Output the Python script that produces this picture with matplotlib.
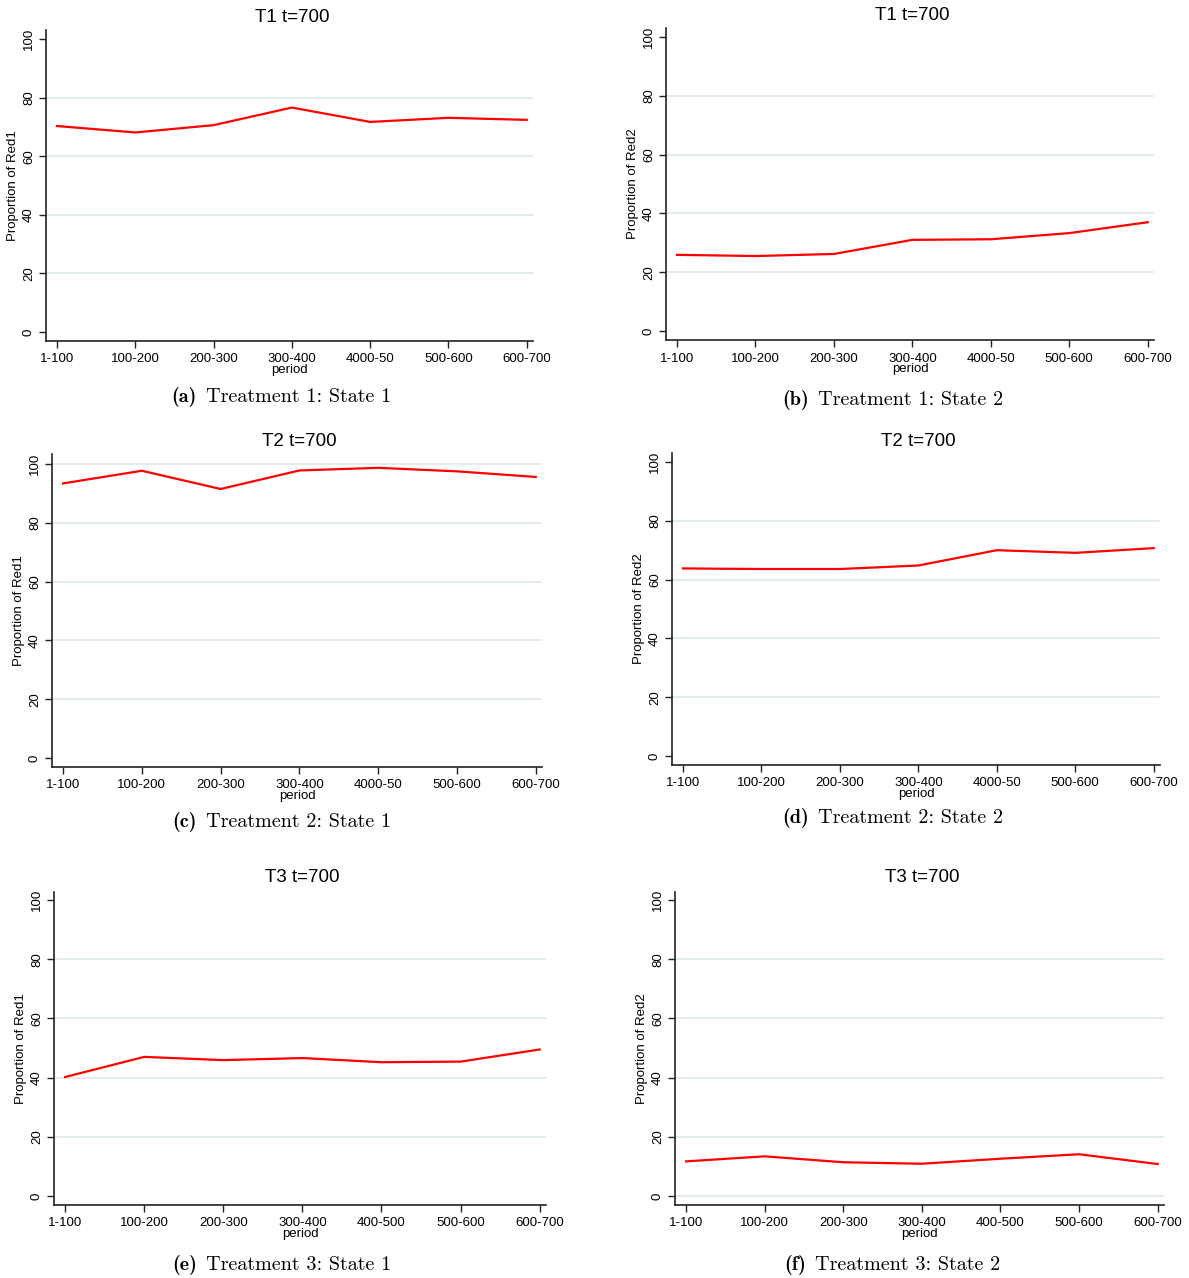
import matplotlib
matplotlib.use("Agg")
import matplotlib.pyplot as plt

# ---- data ----
labels_t12 = ["1-100", "100-200", "200-300", "300-400", "4000-50", "500-600", "600-700"]
labels_t3 = ["1-100", "100-200", "200-300", "300-400", "400-500", "500-600", "600-700"]

t1_state1 = [70.3, 68.1, 70.6, 76.6, 71.7, 73.1, 72.4]
t1_state2 = [25.9, 25.5, 26.2, 31.0, 31.2, 33.3, 37.0]
t2_state1 = [93.4, 97.7, 91.5, 97.8, 98.7, 97.5, 95.6]
t2_state2 = [63.8, 63.6, 63.6, 64.8, 70.0, 69.1, 70.7]
t3_state1 = [40.2, 47.0, 45.9, 46.6, 45.2, 45.4, 49.5]
t3_state2 = [11.7, 13.4, 11.4, 10.9, 12.6, 14.1, 10.8]

titles = ["T1 t=700", "T1 t=700", "T2 t=700", "T2 t=700", "T3 t=700", "T3 t=700"]
ylabels = ["Proportion of Red1", "Proportion of Red2"] * 3
caption_letters = ["(a)", "(b)", "(c)", "(d)", "(e)", "(f)"]
caption_texts = ["Treatment 1: State 1", "Treatment 1: State 2",
                 "Treatment 2: State 1", "Treatment 2: State 2",
                 "Treatment 3: State 1", "Treatment 3: State 2"]
yticks = [0, 20, 40, 60, 80, 100]

series = [t1_state1, t1_state2, t2_state1, t2_state2, t3_state1, t3_state2]
xlabels = [labels_t12, labels_t12, labels_t12, labels_t12, labels_t3, labels_t3]

# ---- layout (pixels: left, right, top, bottom, y0px, y100px, title_y, caption_y, caption_cx) ----
W, H = 1189, 1278
boxes = [
    (46, 533, 30, 341, 332, 39, 16, 397, 281),
    (666, 1154, 28, 340, 331, 37, 15, 400, 893),
    (52, 542, 454, 767, 758, 464, 441, 822, 282),
    (672, 1160, 453, 765, 756, 462, 440, 818, 893),
    (54, 546, 892, 1205, 1196, 900, 877, 1265, 282),
    (675, 1164, 892, 1205, 1196, 900, 877, 1265, 892),
]
extra_grid = [[], [], [100], [], [], [0]]

fig = plt.figure(figsize=(W / 100, H / 100), dpi=100)
sans = "Liberation Sans"
renderer = fig.canvas.get_renderer()

for i in range(6):
    l, r, t, b, y0, y100, ty, cy, ccx = boxes[i]
    ax = fig.add_axes([l / W, 1 - b / H, (r - l) / W, (b - t) / H])
    ppu = (y0 - y100) / 100.0
    ylo = -(b - y0) / ppu
    yhi = 100 + (y100 - t) / ppu
    ax.set_ylim(ylo, yhi)
    ax.set_xlim(-0.14, 6.08)
    for g in [20, 40, 60, 80] + extra_grid[i]:
        ax.axhline(g, color="#dfeaee", lw=1.3, zorder=0)
    x = list(range(len(series[i])))
    ax.plot(x, series[i], color="#ff0000", lw=1.6, zorder=3)
    ax.set_xticks(x)
    ax.set_xticklabels(xlabels[i], fontsize=9.5, family=sans)
    ax.set_yticks(yticks)
    ax.set_yticklabels([str(v) for v in yticks], fontsize=9.5, family=sans,
                       rotation=90, va="center")
    ax.tick_params(axis="both", direction="out", length=5, width=1.0, color="#222222")
    ax.tick_params(axis="x", pad=4)
    ax.tick_params(axis="y", pad=3)
    for s in ["top", "right"]:
        ax.spines[s].set_visible(False)
    for s in ["left", "bottom"]:
        ax.spines[s].set_color("#222222")
        ax.spines[s].set_linewidth(1.2)
    ax.set_xlabel("period", fontsize=9.5, family=sans, labelpad=-1)
    ax.set_ylabel(ylabels[i], fontsize=9.5, family=sans, labelpad=3)
    cx = (l + r) / 2
    fig.text(cx / W + 0.002, 1 - (ty + 1) / H, titles[i], ha="center", va="center",
             fontsize=13.5, family=sans)
    # caption: bold letter + roman text, centred as a whole at ccx
    ta = fig.text(0, 1 - cy / H, caption_letters[i], ha="left", va="center",
                  fontsize=14.5, family="cmb10")
    tb = fig.text(0, 1 - cy / H, caption_texts[i], ha="left", va="center",
                  fontsize=14.5, family="cmr10")
    wa = ta.get_window_extent(renderer).width
    wb = tb.get_window_extent(renderer).width
    gap = 9
    total = wa + gap + wb
    start = ccx - total / 2
    ta.set_x(start / W)
    tb.set_x((start + wa + gap) / W)

fig.savefig("out.png", dpi=100)
